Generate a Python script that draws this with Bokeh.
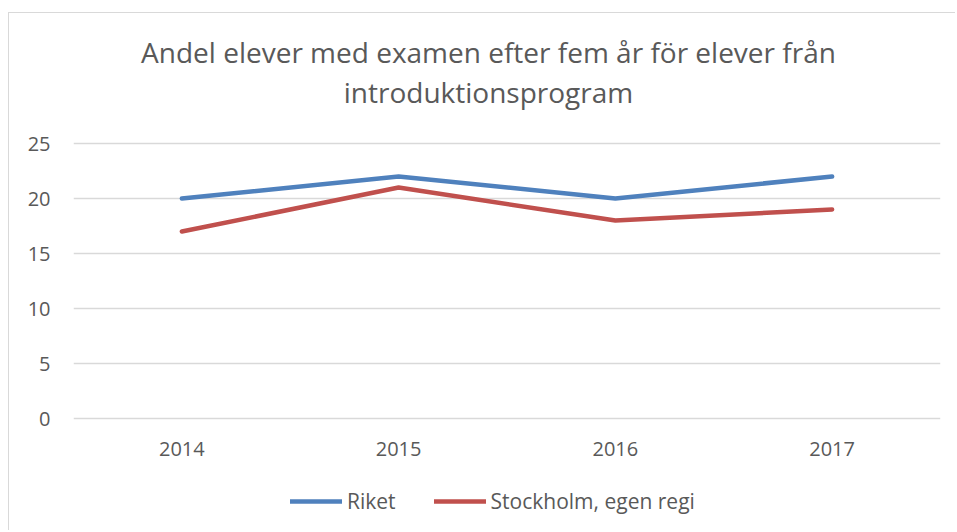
from bokeh.plotting import figure
from bokeh.models import Range1d, FixedTicker, Label, Legend, LegendItem
from bokeh.embed import file_html
from bokeh.resources import INLINE

years = ["2014", "2015", "2016", "2017"]
riket = [20, 22, 20, 22]
stockholm = [17, 21, 18, 19]
y_ticks = [0, 5, 10, 15, 20, 25]
title_lines = ["Andel elever med examen efter fem år för elever från", "introduktionsprogram"]
series_names = ["Riket", "Stockholm, egen regi"]

FONT = "Open Sans"
TXT = "#595959"

xs = [i + 0.5 for i in range(len(years))]

# frame spans the whole canvas height (518 px); 11 px per unit, 0 at 405 px from top
PX = 11.0
Y_MIN = -(518 - 405) / PX
Y_MAX = 405 / PX

p = figure(width=947, height=518, output_backend="svg", toolbar_location=None,
           x_range=Range1d(0, len(years)), y_range=Range1d(Y_MIN, Y_MAX),
           x_axis_location="above",
           min_border_left=64, min_border_right=16, min_border_top=0, min_border_bottom=0)
p.margin = (12, 0, 0, 8)
p.styles = {"border-left": "1px solid #d9d9d9", "border-top": "1px solid #d9d9d9"}
p.outline_line_color = None
p.background_fill_color = "white"
p.border_fill_color = "white"

r1 = p.line(xs, riket, line_color="#4f81bd", line_width=4.5, line_cap="round", line_join="round")
r2 = p.line(xs, stockholm, line_color="#c0504d", line_width=4.5, line_cap="round", line_join="round")

p.xgrid.grid_line_color = None
p.ygrid.grid_line_color = "#d9d9d9"
p.ygrid.grid_line_width = 1.3
p.ygrid.ticker = FixedTicker(ticks=y_ticks)

p.yaxis.ticker = FixedTicker(ticks=y_ticks)
p.xaxis.ticker = FixedTicker(ticks=xs)
p.xaxis.major_label_overrides = {x: y for x, y in zip(xs, years)}
p.xaxis.fixed_location = 0
for ax in (p.xaxis[0], p.yaxis[0]):
    ax.axis_line_color = None
    ax.major_tick_line_color = None
    ax.minor_tick_line_color = None
    ax.major_tick_out = 0
    ax.major_tick_in = 0
    ax.major_label_text_font = FONT
    ax.major_label_text_font_size = "20px"
    ax.major_label_text_color = TXT
p.yaxis.major_label_standoff = 23
p.xaxis.major_label_standoff = -37

for t, ypos in zip(title_lines, [480, 440]):
    p.add_layout(Label(x=415, y=ypos, x_units="screen", y_units="screen", text=t,
                       text_align="center", text_baseline="middle", text_font=FONT,
                       text_font_size="28px", text_color=TXT))

legend = Legend(items=[LegendItem(label=series_names[0], renderers=[r1]),
                       LegendItem(label=series_names[1], renderers=[r2])],
                location=(217, 16), orientation="horizontal")
legend.padding = 0
legend.margin = 0
legend.spacing = 38
legend.glyph_width = 52
legend.glyph_height = 20
legend.label_height = 20
legend.label_standoff = 5
legend.label_text_font = FONT
legend.label_text_font_size = "21px"
legend.label_text_color = TXT
legend.border_line_color = None
legend.background_fill_alpha = 0
p.add_layout(legend, "center")

open("out.html", "w").write(file_html(p, INLINE))
